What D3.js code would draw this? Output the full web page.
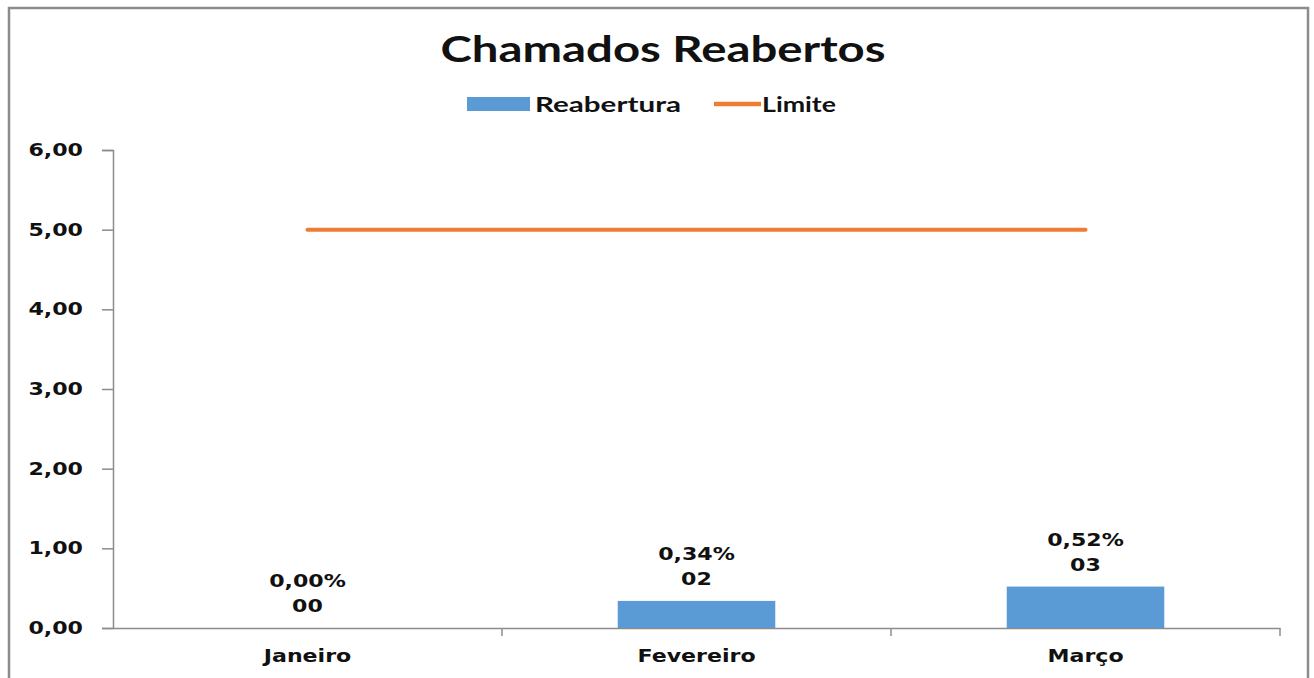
<!DOCTYPE html>
<html><head><meta charset="utf-8">
<script src="https://cdn.jsdelivr.net/npm/d3@7"></script>
<style>
html,body{margin:0;padding:0;background:#fff;}
svg{display:block;}
</style></head>
<body>
<script>
const categories = ["Janeiro", "Fevereiro", "Março"];
const reabertura = [0.00, 0.34, 0.52];
const contagem = ["00", "02", "03"];
const limite = [5, 5, 5];
const yTicks = [0, 1, 2, 3, 4, 5, 6];
const seriesNames = ["Reabertura", "Limite"];
const titleText = "Chamados Reabertos";

const W = 1314, H = 678;
const svg = d3.select("body").append("svg").attr("width", W).attr("height", H);

// horizontal stretch helper (reference text is wide)
function stretch(sel, k) {
  sel.each(function() {
    const w = this.getComputedTextLength();
    d3.select(this).attr("textLength", w * k).attr("lengthAdjust", "spacingAndGlyphs");
  });
}
function fitWidth(sel, w) {
  sel.attr("textLength", w).attr("lengthAdjust", "spacingAndGlyphs");
}

// frame
svg.append("rect").attr("x", 9).attr("y", 8).attr("width", 1299).attr("height", H + 10)
  .attr("fill", "#fff").attr("stroke", "#8c8c8c").attr("stroke-width", 2.5);

const margin = {left: 113, right: 1280, top: 150, bottom: 628};
const x = d3.scaleBand().domain(categories).range([margin.left, margin.right]);
const y = d3.scaleLinear().domain([0, 6]).range([margin.bottom, margin.top]);

const fmt = v => d3.format(".2f")(v).replace(".", ",");
const axisFont = "'DejaVu Sans', Verdana, sans-serif";
const titleFont = "Lato, 'Open Sans', sans-serif";
const K = 1.3;
const FS = 17;

// y axis
const yAxis = svg.append("g").attr("transform", `translate(${margin.left},0)`)
  .call(d3.axisLeft(y).tickValues(yTicks).tickFormat(fmt).tickSize(11).tickPadding(19));
yAxis.select(".domain").attr("stroke", "#8c8c8c").attr("stroke-width", 1.5);
yAxis.selectAll(".tick line").attr("stroke", "#8c8c8c").attr("stroke-width", 1.5);
yAxis.selectAll(".tick text").attr("font-family", axisFont).attr("font-weight", "bold")
  .attr("font-size", FS).attr("fill", "#111").call(stretch, K);

// x axis
const xAxis = svg.append("g").attr("transform", `translate(0,${margin.bottom})`)
  .call(d3.axisBottom(x).tickSize(0).tickPadding(22));
xAxis.select(".domain").attr("stroke", "#8c8c8c").attr("stroke-width", 1.5);
xAxis.selectAll(".tick text").attr("font-family", axisFont).attr("font-weight", "bold")
  .attr("font-size", FS).attr("fill", "#111").call(stretch, K);
// category separator ticks
const bounds = categories.map(c => x(c)).concat([x(categories[categories.length-1]) + x.bandwidth()]);
svg.append("g").selectAll("line").data(bounds.slice(1)).join("line")
  .attr("x1", d => d).attr("x2", d => d)
  .attr("y1", margin.bottom).attr("y2", margin.bottom + 8)
  .attr("stroke", "#8c8c8c").attr("stroke-width", 1.5);

// bars
const barW = x.bandwidth() * 0.405;
svg.append("g").selectAll("rect").data(categories).join("rect")
  .attr("x", (c) => x(c) + x.bandwidth()/2 - barW/2)
  .attr("y", (c, i) => y(reabertura[i]))
  .attr("width", barW)
  .attr("height", (c, i) => y(0) - y(reabertura[i]))
  .attr("fill", "#5B9BD5");

// limit line
const line = d3.line().x((d, i) => x(categories[i]) + x.bandwidth()/2).y(d => y(d));
svg.append("path").datum(limite).attr("d", line)
  .attr("fill", "none").attr("stroke", "#ED7D31").attr("stroke-width", 4).attr("stroke-linecap", "round");

// data labels (two lines)
const lblG = svg.append("g").attr("font-family", axisFont).attr("font-weight", "bold")
  .attr("font-size", FS).attr("fill", "#111").attr("text-anchor", "middle");
lblG.selectAll("text.pct").data(categories).join("text").attr("class", "pct")
  .attr("x", c => x(c) + x.bandwidth()/2)
  .attr("y", (c, i) => y(reabertura[i]) - 41)
  .text((c, i) => fmt(reabertura[i]) + "%").call(stretch, K);
lblG.selectAll("text.cnt").data(categories).join("text").attr("class", "cnt")
  .attr("x", c => x(c) + x.bandwidth()/2)
  .attr("y", (c, i) => y(reabertura[i]) - 16)
  .text((c, i) => contagem[i]).call(stretch, K);

// title
svg.append("text").attr("x", 663).attr("y", 62).attr("text-anchor", "middle")
  .attr("font-family", titleFont).attr("font-weight", "bold").attr("font-size", 36)
  .attr("fill", "#111").text(titleText).call(fitWidth, 445);

// legend
const lg = svg.append("g");
lg.append("rect").attr("x", 467).attr("y", 97).attr("width", 63).attr("height", 14).attr("fill", "#5B9BD5");
lg.append("text").attr("x", 535).attr("y", 112).attr("font-family", titleFont).attr("font-weight", "bold")
  .attr("font-size", 21).attr("fill", "#111").text(seriesNames[0]).call(fitWidth, 146);
lg.append("line").attr("x1", 714).attr("x2", 761).attr("y1", 104).attr("y2", 104)
  .attr("stroke", "#ED7D31").attr("stroke-width", 4.5);
lg.append("text").attr("x", 762).attr("y", 112).attr("font-family", titleFont).attr("font-weight", "bold")
  .attr("font-size", 21).attr("fill", "#111").text(seriesNames[1]).call(fitWidth, 74);
</script>
</body></html>
